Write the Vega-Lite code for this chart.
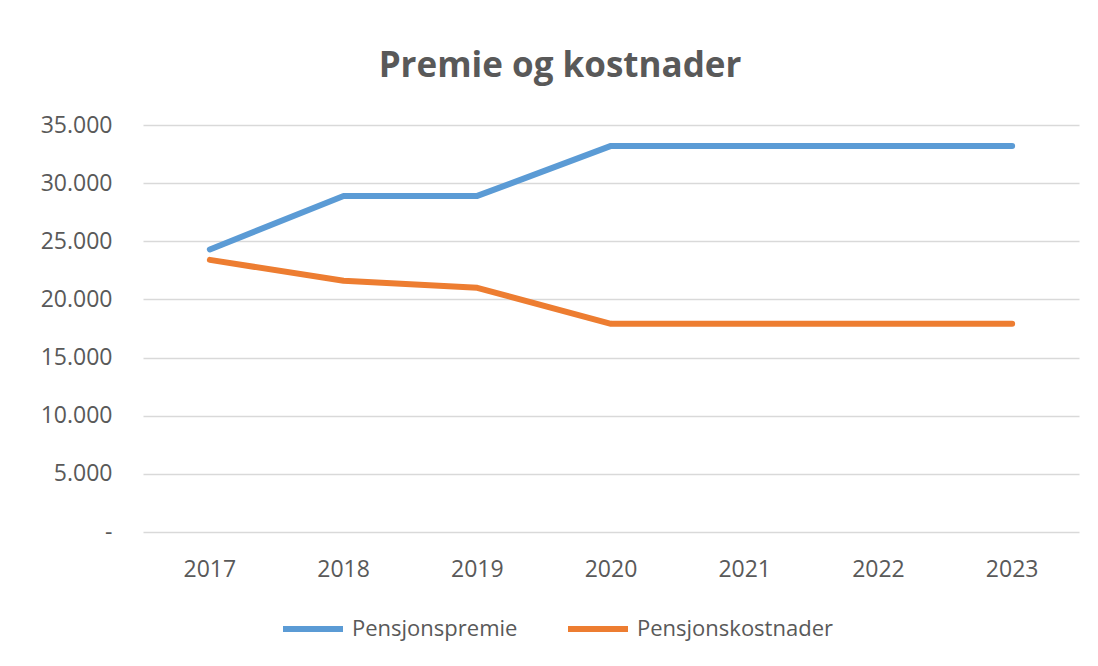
{
  "$schema": "https://vega.github.io/schema/vega-lite/v6.json",
  "width": 936,
  "height": 407,
  "autosize": {"type": "none"},
  "padding": {"left": 143, "top": 125, "right": 19, "bottom": 134},
  "background": "white",
  "title": {
    "text": "Premie og kostnader",
    "font": "Open Sans",
    "fontSize": 35,
    "fontWeight": "bold",
    "color": "#595959",
    "anchor": "middle",
    "dx": -51,
    "offset": 30
  },
  "data": {
    "values": [
      {"year": "2017", "series": "Pensjonspremie", "value": 24300},
      {"year": "2018", "series": "Pensjonspremie", "value": 28900},
      {"year": "2019", "series": "Pensjonspremie", "value": 28900},
      {"year": "2020", "series": "Pensjonspremie", "value": 33200},
      {"year": "2021", "series": "Pensjonspremie", "value": 33200},
      {"year": "2022", "series": "Pensjonspremie", "value": 33200},
      {"year": "2023", "series": "Pensjonspremie", "value": 33200},
      {"year": "2017", "series": "Pensjonskostnader", "value": 23400},
      {"year": "2018", "series": "Pensjonskostnader", "value": 21600},
      {"year": "2019", "series": "Pensjonskostnader", "value": 21000},
      {"year": "2020", "series": "Pensjonskostnader", "value": 17900},
      {"year": "2021", "series": "Pensjonskostnader", "value": 17900},
      {"year": "2022", "series": "Pensjonskostnader", "value": 17900},
      {"year": "2023", "series": "Pensjonskostnader", "value": 17900}
    ]
  },
  "mark": {"type": "line", "strokeWidth": 6, "strokeCap": "round", "strokeJoin": "round"},
  "encoding": {
    "x": {
      "field": "year",
      "type": "ordinal",
      "scale": {"type": "band", "paddingInner": 0, "paddingOuter": 0},
      "axis": {
        "title": null,
        "labelAngle": 0,
        "labelFont": "Open Sans",
        "labelFontSize": 23,
        "labelColor": "#595959",
        "labelPadding": 26,
        "ticks": false,
        "domain": false,
        "grid": false
      }
    },
    "y": {
      "field": "value",
      "type": "quantitative",
      "scale": {"domain": [0, 35000], "nice": false},
      "axis": {
        "title": null,
        "values": [0, 5000, 10000, 15000, 20000, 25000, 30000, 35000],
        "format": ",.0f",
        "labelExpr": "datum.value == 0 ? '-' : replace(datum.label, ',', '.')",
        "labelFont": "Open Sans",
        "labelFontSize": 23,
        "labelColor": "#595959",
        "labelPadding": 31,
        "ticks": false,
        "domain": false,
        "grid": true,
        "gridColor": "#D9D9D9",
        "gridWidth": 1.5
      }
    },
    "color": {
      "field": "series",
      "type": "nominal",
      "sort": ["Pensjonspremie", "Pensjonskostnader"],
      "scale": {"domain": ["Pensjonspremie", "Pensjonskostnader"], "range": ["#5B9BD5", "#ED7D31"]},
      "legend": {
        "title": null,
        "orient": "none",
        "legendX": 137,
        "legendY": 471,
        "direction": "horizontal",
        "symbolType": "stroke",
        "symbolSize": 3600,
        "symbolStrokeWidth": 6,
        "labelFont": "Open Sans",
        "labelFontSize": 22,
        "labelColor": "#595959",
        "labelLimit": 400,
        "labelOffset": 6,
        "columnPadding": 38
      }
    }
  },
  "config": {"view": {"stroke": null}}
}
